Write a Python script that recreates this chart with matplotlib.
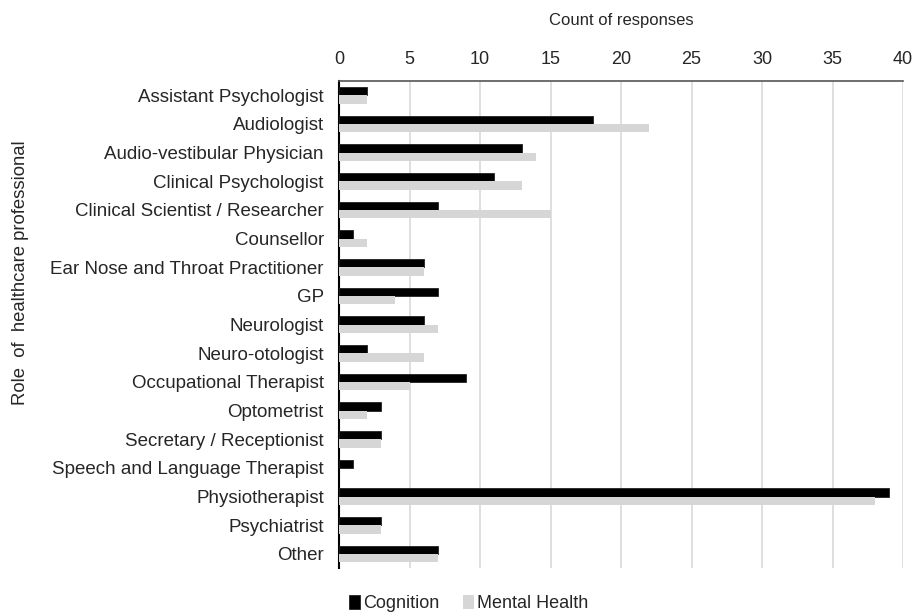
import numpy as np
import matplotlib
matplotlib.use("Agg")
import matplotlib.pyplot as plt

plt.rcParams['font.family'] = ['Liberation Sans', 'DejaVu Sans']

roles = ['Assistant Psychologist', 'Audiologist', 'Audio-vestibular Physician',
         'Clinical Psychologist', 'Clinical Scientist / Researcher', 'Counsellor',
         'Ear Nose and Throat Practitioner', 'GP', 'Neurologist', 'Neuro-otologist',
         'Occupational Therapist', 'Optometrist', 'Secretary / Receptionist',
         'Speech and Language Therapist', 'Physiotherapist', 'Psychiatrist', 'Other']
cognition = [2, 18, 13, 11, 7, 1, 6, 7, 6, 2, 9, 3, 3, 1, 39, 3, 7]
mental_health = [2, 22, 14, 13, 15, 2, 6, 4, 7, 6, 5, 2, 3, 0, 38, 3, 7]

txt = '#262626'
y = np.arange(len(roles))
h = 0.29

fig = plt.figure(figsize=(9.14, 6.13), dpi=100)
ax = fig.add_axes([0.371, 0.073, 0.617, 0.795])

ax.barh(y - h/2, cognition, height=h, color='black', edgecolor='#222222', linewidth=0.6, label='Cognition', zorder=3)
ax.barh(y + h/2, mental_health, height=h, color='#d6d6d6', label='Mental Health', zorder=3)

ax.set_xlim(0, 40)
ax.set_ylim(len(roles) - 0.5, -0.5)
ax.set_xticks(np.arange(0, 41, 5))
ax.xaxis.tick_top()
ax.xaxis.set_label_position('top')
ax.set_xlabel('Count of responses', fontsize=12, color=txt, labelpad=19)
ax.set_ylabel('Role  of  healthcare professional', fontsize=13.3, color=txt)
ax.yaxis.set_label_coords(-0.55, 0.606)
ax.set_yticks(y, roles)
ax.tick_params(axis='x', length=0, labelsize=13, colors=txt, pad=9)
ax.tick_params(axis='y', length=0, labelsize=13.5, colors=txt, pad=11)

ax.grid(axis='x', color='#d9d9d9', linewidth=1.2, zorder=0)
for s in ['right', 'bottom']:
    ax.spines[s].set_visible(False)
ax.spines['left'].set_color('black')
ax.spines['left'].set_linewidth(1.5)
ax.spines['top'].set_color('#555555')
ax.spines['top'].set_linewidth(1.2)

leg = ax.legend(loc='upper center', bbox_to_anchor=(0.23, -0.022), ncol=2, frameon=False,
                fontsize=13, handlelength=0.6, handleheight=0.8, handletextpad=0.2,
                columnspacing=1.3)
for t in leg.get_texts():
    t.set_color(txt)

fig.savefig('out.png', dpi=100)
